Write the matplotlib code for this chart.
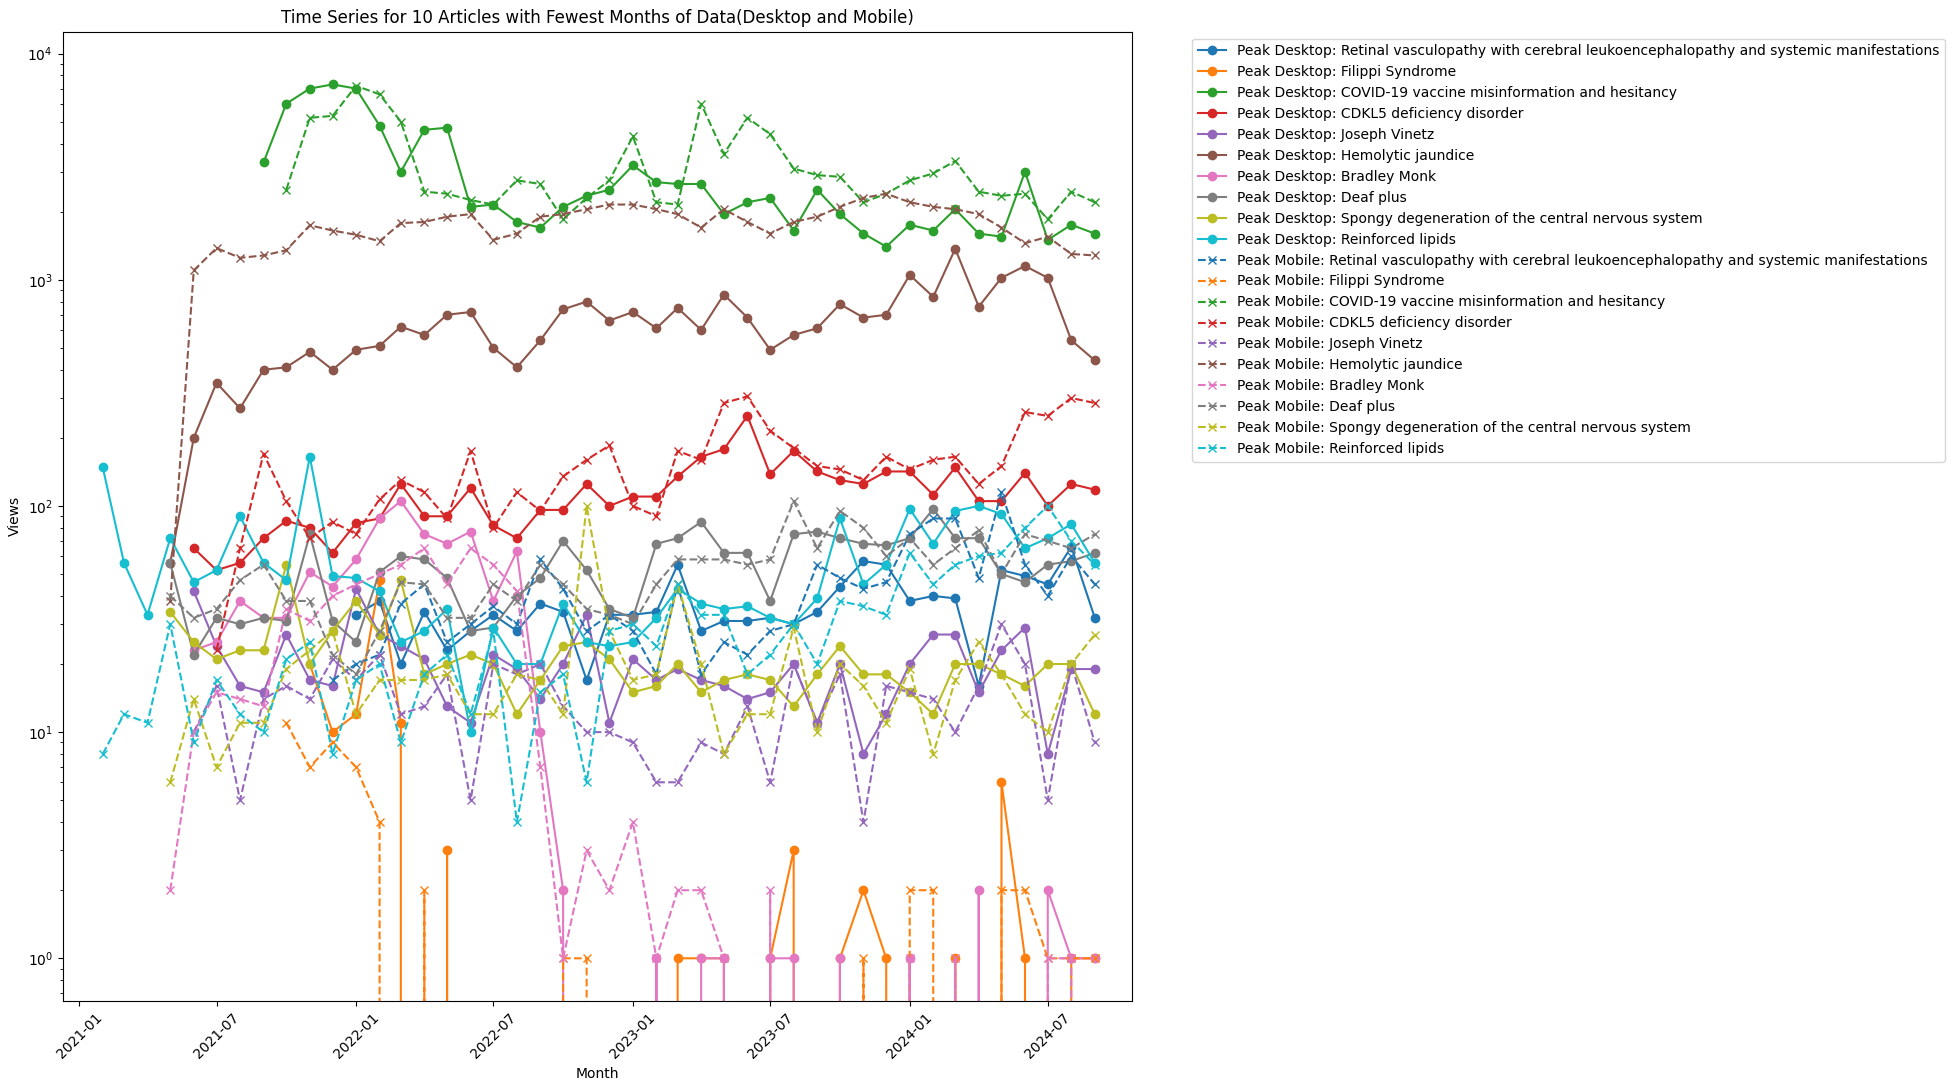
import numpy as np
import pandas as pd
import matplotlib
matplotlib.use('Agg')
import matplotlib.pyplot as plt
import matplotlib.dates as mdates

months = pd.date_range('2021-02-01', '2024-09-01', freq='MS')

articles = ['Retinal vasculopathy with cerebral leukoencephalopathy and systemic manifestations',
            'Filippi Syndrome', 'COVID-19 vaccine misinformation and hesitancy',
            'CDKL5 deficiency disorder', 'Joseph Vinetz', 'Hemolytic jaundice',
            'Bradley Monk', 'Deaf plus', 'Spongy degeneration of the central nervous system',
            'Reinforced lipids']

# values listed oldest -> newest, every series ends 2024-09
desktop_retinal = [33, 38, 20, 34, 23, 28, 33, 28, 37, 34, 17, 33, 33, 34, 55, 28, 31, 31, 32, 30, 34,
                   44, 57, 55, 38, 40, 39, 16, 52, 49, 45, 66, 32]
desktop_filippi = [20, 10, 12, 47, 11, 0, 3, 0, 0, 0, 0, 0, 0, 0, 0, 0, 1, 1, 1, 0, 1, 3, 0, 1, 2, 1,
                   0, 0, 1, 0, 6, 1, 0, 1, 1]
desktop_covid = [3300, 6000, 7000, 7300, 7000, 4800, 3000, 4600, 4700, 2100, 2150, 1800, 1700, 2100,
                 2350, 2500, 3200, 2700, 2650, 2650, 1950, 2200, 2300, 1650, 2500, 1950, 1600, 1400,
                 1750, 1650, 2050, 1600, 1550, 3000, 1500, 1750, 1600]
desktop_cdkl5 = [65, 52, 56, 72, 86, 80, 62, 84, 88, 125, 90, 90, 120, 82, 72, 96, 96, 125, 100, 110,
                 110, 135, 165, 178, 250, 138, 175, 142, 130, 125, 142, 142, 112, 148, 105, 105, 140,
                 100, 125, 118]
desktop_vinetz = [42, 24, 16, 15, 27, 17, 16, 43, 27, 24, 21, 13, 11, 22, 19, 14, 20, 33, 11, 21, 17,
                  19, 17, 16, 14, 15, 20, 11, 20, 8, 12, 20, 27, 27, 15, 23, 29, 8, 19, 19]
desktop_hemolytic = [56, 200, 350, 270, 400, 410, 480, 400, 490, 510, 620, 570, 700, 720, 500, 410, 540,
                     740, 800, 660, 720, 610, 750, 600, 860, 680, 490, 570, 610, 780, 680, 700, 1050,
                     840, 1370, 760, 1020, 1150, 1020, 540, 440]
desktop_monk = [23, 25, 38, 32, 32, 51, 44, 58, 88, 105, 75, 68, 77, 38, 63, 10, 2, 0, 0, 0, 1, 0, 1, 1,
                0, 1, 1, 0, 1, 0, 0, 1, 0, 0, 2, 0, 0, 2, 1, 1]
desktop_deaf = [56, 22, 32, 30, 32, 31, 75, 31, 25, 51, 60, 58, 48, 28, 29, 40, 48, 70, 52, 35, 32, 68,
                72, 85, 62, 62, 38, 75, 77, 72, 68, 67, 72, 97, 72, 72, 50, 46, 55, 57, 62]
desktop_spongy = [34, 25, 21, 23, 23, 55, 20, 28, 38, 27, 47, 18, 20, 22, 20, 12, 17, 24, 25, 21, 15,
                  16, 20, 15, 17, 18, 17, 13, 18, 24, 18, 18, 15, 12, 20, 20, 18, 16, 20, 20, 12]
desktop_lipids = [148, 56, 33, 72, 46, 52, 90, 56, 47, 165, 49, 48, 42, 25, 28, 35, 10, 29, 20, 20, 37,
                  25, 24, 25, 32, 43, 37, 35, 36, 32, 30, 39, 88, 45, 55, 97, 68, 95, 100, 92, 65, 72,
                  83, 56]

mobile_retinal = [17, 20, 22, 37, 45, 25, 30, 36, 30, 58, 43, 28, 33, 28, 18, 45, 18, 25, 22, 28, 30, 55,
                  48, 43, 46, 75, 88, 88, 48, 115, 55, 40, 60, 45]
mobile_filippi = [11, 7, 9, 7, 4, 0, 2, 0, 0, 0, 0, 0, 1, 1, 0, 0, 0, 0, 0, 0, 0, 0, 0, 0, 0, 1, 0, 2,
                  2, 0, 0, 2, 2, 1, 1, 1]
mobile_covid = [2500, 5200, 5300, 7200, 6600, 5000, 2450, 2400, 2250, 2150, 2750, 2650, 1850, 2300,
                2750, 4300, 2200, 2150, 6000, 3600, 5200, 4400, 3100, 2900, 2850, 2200, 2400, 2750,
                2950, 3350, 2450, 2350, 2400, 1850, 2450, 2200]
mobile_cdkl5 = [23, 65, 170, 105, 72, 85, 75, 107, 130, 115, 88, 175, 80, 115, 95, 135, 160, 185, 100,
                90, 175, 160, 285, 305, 215, 180, 150, 145, 130, 165, 145, 160, 165, 125, 150, 260, 250,
                300, 285]
mobile_vinetz = [10, 16, 5, 14, 16, 14, 21, 17, 22, 12, 13, 18, 5, 20, 18, 20, 13, 10, 10, 9, 6, 6, 9,
                 8, 13, 6, 20, 11, 18, 4, 16, 15, 14, 10, 16, 30, 20, 5, 20, 9]
mobile_hemolytic = [38, 1100, 1380, 1250, 1280, 1350, 1740, 1650, 1580, 1480, 1780, 1800, 1900, 1950,
                    1500, 1600, 1900, 1950, 2050, 2150, 2150, 2050, 1950, 1700, 2050, 1800, 1600, 1800,
                    1900, 2100, 2300, 2400, 2200, 2100, 2050, 1950, 1700, 1450, 1550, 1300, 1280]
mobile_monk = [2, 10, 15, 14, 13, 35, 31, 40, 45, 50, 55, 65, 45, 65, 55, 42, 7, 1, 3, 2, 4, 1, 2, 2, 1,
               0, 2, 0, 0, 0, 0, 0, 1, 0, 1, 0, 0, 0, 1, 1, 0]
mobile_deaf = [40, 32, 35, 47, 55, 38, 38, 22, 18, 28, 46, 45, 32, 32, 45, 38, 55, 45, 35, 33, 30, 45,
               58, 58, 58, 55, 58, 105, 65, 95, 80, 60, 72, 55, 65, 78, 50, 75, 70, 65, 75]
mobile_spongy = [6, 14, 7, 11, 11, 19, 23, 28, 12, 17, 17, 17, 18, 12, 12, 18, 17, 12, 100, 28, 17, 18,
                 45, 20, 8, 12, 12, 29, 10, 20, 16, 11, 19, 8, 17, 25, 18, 12, 10, 20, 27]
mobile_lipids = [8, 12, 11, 30, 9, 17, 12, 10, 21, 25, 8, 17, 20, 9, 18, 22, 12, 28, 4, 15, 18, 6, 28,
                 30, 24, 45, 33, 33, 18, 22, 30, 20, 38, 36, 33, 62, 45, 55, 60, 62, 80, 100, 70, 55]

desktop = [desktop_retinal, desktop_filippi, desktop_covid, desktop_cdkl5, desktop_vinetz,
           desktop_hemolytic, desktop_monk, desktop_deaf, desktop_spongy, desktop_lipids]
mobile = [mobile_retinal, mobile_filippi, mobile_covid, mobile_cdkl5, mobile_vinetz,
          mobile_hemolytic, mobile_monk, mobile_deaf, mobile_spongy, mobile_lipids]


def to_series(values):
    vals = list(values)[-len(months):]
    return pd.Series(vals, index=months[len(months) - len(vals):], dtype=float)


fig = plt.figure(figsize=(19.55, 10.9), dpi=100)
ax = fig.add_axes([0.032, 0.082, 0.547, 0.889])
colors = plt.rcParams['axes.prop_cycle'].by_key()['color']

for i, (name, vals) in enumerate(zip(articles, desktop)):
    s = to_series(vals)
    ax.plot(s.index, s.values, marker='o', linestyle='-', color=colors[i], label=f'Peak Desktop: {name}')
for i, (name, vals) in enumerate(zip(articles, mobile)):
    s = to_series(vals)
    ax.plot(s.index, s.values, marker='x', linestyle='--', color=colors[i], label=f'Peak Mobile: {name}')

ax.set_yscale('log')
ax.set_ylim(0.65, 12500)
ax.set_xlim(pd.Timestamp('2020-12-10'), pd.Timestamp('2024-10-20'))
ax.xaxis.set_major_locator(mdates.MonthLocator(bymonth=(1, 7)))
ax.xaxis.set_major_formatter(mdates.DateFormatter('%Y-%m'))
plt.setp(ax.get_xticklabels(), rotation=45)
ax.set_title('Time Series for 10 Articles with Fewest Months of Data(Desktop and Mobile)')
ax.set_xlabel('Month')
ax.set_ylabel('Views')
ax.legend(bbox_to_anchor=(1.05, 1), loc='upper left')

fig.savefig('out.png')
